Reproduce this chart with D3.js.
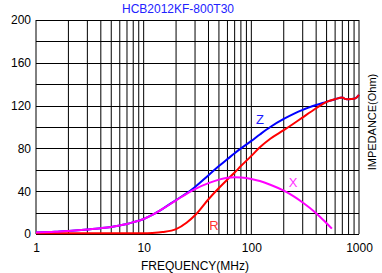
<!DOCTYPE html>
<html>
<head>
<meta charset="utf-8">
<script src="https://cdn.jsdelivr.net/npm/d3@7"></script>
<style>
  body { margin: 0; background: #fff; }
  text { font-family: "Liberation Sans", Arial, sans-serif; }
</style>
</head>
<body>
<div class="chartView"></div>
<script>
// --- chart data
var title = 'HCB2012KF-800T30';
var xTicks = [1, 10, 100, 1000];
var yTicks = [0, 40, 80, 120, 160, 200];

// Z and R share one frequency list (MHz)
var freqZR = [1, 1.5, 2, 3, 4, 5, 6, 7, 8, 10, 12, 15, 20, 25, 30, 40, 50, 60, 70, 80,
  100, 120, 150, 200, 250, 300, 400, 500, 600, 700, 750, 800, 900, 950, 1000];
var zValues = [1.5, 2, 2.8, 4.2, 5.4, 6.6, 8, 9.4, 11, 14, 17.8, 23.5, 31.8, 38, 44, 55, 63.5, 70, 75.5, 80,
  87, 93, 100, 107.5, 112.5, 116, 120.5, 123.5, 126, 127.5, 126.2, 126, 126.3, 127.5, 130];
var rValues = [0.6, 0.6, 0.6, 0.6, 0.6, 0.6, 0.6, 0.6, 0.6, 0.6, 0.9, 1.8, 4.5, 10.5, 17.5, 32.5, 43, 51, 57.5, 63.5,
  73, 81, 89, 97, 103.5, 109, 117.5, 123.5, 126, 127.5, 126.2, 126, 126.3, 127.5, 130];

// X stops at ~560 MHz
var freqX = [1, 1.5, 2, 3, 4, 5, 6, 7, 8, 10, 12, 15, 20, 25, 30, 40, 50, 60, 70, 80,
  100, 120, 150, 200, 250, 300, 400, 500, 560];
var xValues = [1.5, 2, 2.8, 4.2, 5.4, 6.6, 8, 9.4, 11, 14, 17.8, 23.5, 31.5, 37.5, 42, 47.5, 50.8, 52.5, 53, 52.8,
  51.5, 49.5, 46, 40.5, 35, 29.5, 19.5, 10, 5];

// curve labels
var curveLabels = [
  { name: 'Z', f: 120, v: 103, color: '#1a1aff' },
  { name: 'R', f: 45, v: 3.7, color: '#ff3333' },
  { name: 'X', f: 244, v: 44, color: '#ff33ff' }
];

// --- layout
var width = 382, height = 273;
var margin = { top: 20, right: 23, bottom: 39, left: 36 };

var svg = d3.select('.chartView').append('svg')
  .attr('width', width)
  .attr('height', height);

var x = d3.scaleLog().domain([1, 1000]).range([margin.left, width - margin.right]);
var y = d3.scaleLinear().domain([0, 200]).range([height - margin.bottom, margin.top]);

//vertical grid: 1..9 in each decade
var gridF = [];
[1, 10, 100].forEach(function(d) {
  for (var i = 1; i < 10; i++) gridF.push(d * i);
});
gridF.push(1000);

svg.append('g').selectAll('line')
  .data(gridF)
  .enter().append('line')
  .attr('x1', function(d) { return x(d); })
  .attr('x2', function(d) { return x(d); })
  .attr('y1', y(0))
  .attr('y2', y(200))
  .attr('stroke', '#000')
  .attr('stroke-width', 1);

//horizontal grid every 20
svg.append('g').selectAll('line')
  .data(d3.range(0, 201, 20))
  .enter().append('line')
  .attr('x1', x(1))
  .attr('x2', x(1000))
  .attr('y1', function(d) { return Math.round(y(d)) + 0.5; })
  .attr('y2', function(d) { return Math.round(y(d)) + 0.5; })
  .attr('stroke', '#000')
  .attr('stroke-width', 1);

//axes: only the tick labels are visible
var xAxis = svg.append('g')
  .attr('transform', 'translate(0,' + y(0) + ')')
  .call(d3.axisBottom(x).tickValues(xTicks).tickFormat(d3.format('d')).tickSize(0).tickPadding(9));
var yAxis = svg.append('g')
  .attr('transform', 'translate(' + x(1) + ',0)')
  .call(d3.axisLeft(y).tickValues(yTicks).tickSize(0).tickPadding(5));
[xAxis, yAxis].forEach(function(a) {
  a.select('.domain').remove();
  a.selectAll('text')
    .attr('fill', '#000')
    .style('font-size', '12px')
    .style('font-family', '"Liberation Sans", Arial, sans-serif');
});

//curves, drawn Z first so R and X sit on top of it
var line = d3.line()
  .x(function(d) { return x(d[0]); })
  .y(function(d) { return y(d[1]); })
  .curve(d3.curveMonotoneX);

var series = [
  { f: freqZR, v: zValues, color: '#0000ff' },
  { f: freqZR, v: rValues, color: '#ff0000' },
  { f: freqX, v: xValues, color: '#ff00ff' }
];
series.forEach(function(s) {
  svg.append('path')
    .datum(d3.zip(s.f, s.v))
    .attr('d', line)
    .attr('fill', 'none')
    .attr('stroke', s.color)
    .attr('stroke-width', 2);
});

svg.selectAll('.curveLabel')
  .data(curveLabels)
  .enter().append('text')
  .attr('class', 'curveLabel')
  .attr('x', function(d) { return x(d.f); })
  .attr('y', function(d) { return y(d.v); })
  .attr('text-anchor', 'middle')
  .attr('fill', function(d) { return d.color; })
  .style('font-size', '13px')
  .text(function(d) { return d.name; });

//titles
svg.append('text')
  .attr('x', 178)
  .attr('y', 13)
  .attr('text-anchor', 'middle')
  .attr('fill', '#2222ff')
  .style('font-size', '12px')
  .text(title);

svg.append('text')
  .attr('x', 195)
  .attr('y', 270)
  .attr('text-anchor', 'middle')
  .attr('fill', '#000')
  .style('font-size', '12px')
  .text('FREQUENCY(MHz)');

svg.append('text')
  .attr('transform', 'translate(376,122) rotate(-90)')
  .attr('text-anchor', 'middle')
  .attr('fill', '#000')
  .style('font-size', '11px')
  .text('IMPEDANCE(Ohm)');
</script>
</body>
</html>
